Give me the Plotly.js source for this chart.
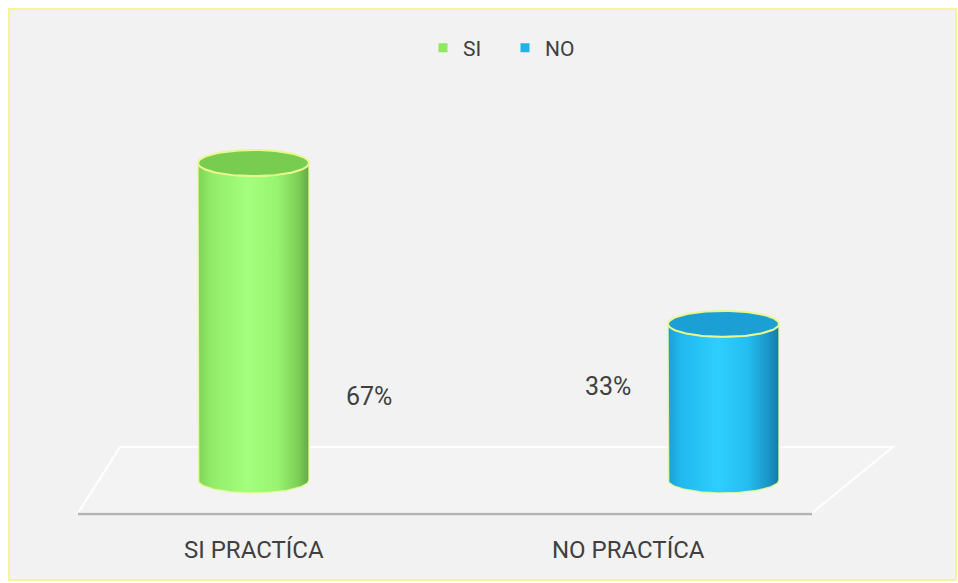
<!DOCTYPE html>
<html>
<head>
<meta charset="utf-8">
<script src="https://cdn.plot.ly/plotly-3.0.1.min.js"></script>
<style>
html,body{margin:0;padding:0;background:#fff;}
#chart{width:958px;height:583px;}
</style>
</head>
<body>
<div id="chart"></div>
<script>
// ---- data ----
const categories = ['SI PRACTÍCA', 'NO PRACTÍCA'];
const seriesNames = ['SI', 'NO'];
const values = [67, 33];
const valueSuffix = '%';

// ---- styling ----
const W = 958, H = 583;
const FONT = "'Liberation Sans Narrow', 'Arial Narrow', Roboto, sans-serif";
const bodyScales = [
  [[0,'#7fd257'],[0.12,'#92ec69'],[0.45,'#a3ff7d'],[0.72,'#98f370'],[0.9,'#7dcf56'],[1,'#63a944']],
  [[0,'#1a9fd6'],[0.12,'#22b9ee'],[0.45,'#2dcffe'],[0.72,'#25bdf0'],[0.9,'#1996c9'],[1,'#1479a8']]
];
const topColors = ['#78cd50', '#1c9fd4'];
const legendColors = ['#8ee860', '#1fb3e6'];

// pixel helpers (paper coords)
const px = x => x / W;
const py = y => 1 - y / H;

// axis scaling: y=0 at pixel 480, 67 at pixel 163
const pxPerUnitY = (480 - 163) / 67;
const yMin = -(H - 480) / pxPerUnitY;
const yMax = yMin + H / pxPerUnitY;
// x: category index 0 -> 253.5px, 1 -> 723.5px
const pxPerUnitX = 470;
const xMin = -253.5 / pxPerUnitX;
const xMax = xMin + W / pxPerUnitX;

const a = 55.5 / pxPerUnitX;   // ellipse half-width (data units)
const b = 13 / pxPerUnitY;     // ellipse half-height (data units)
const N = 60;

const traces = [];
values.forEach((v, i) => {
  const cx = i;
  // body
  const bx = [], by = [];
  bx.push(cx - a); by.push(v);
  bx.push(cx - a); by.push(0);
  for (let k = 0; k <= N; k++) {
    const t = Math.PI + Math.PI * k / N;
    bx.push(cx + a * Math.cos(t)); by.push(b * Math.sin(t));
  }
  bx.push(cx + a); by.push(v);
  for (let k = 0; k <= N; k++) {
    const t = -Math.PI * k / N;
    bx.push(cx + a * Math.cos(t)); by.push(v + b * Math.sin(t));
  }
  traces.push({
    type: 'scatter', mode: 'lines', x: bx, y: by, fill: 'toself',
    fillgradient: {type: 'horizontal', colorscale: bodyScales[i]},
    line: {color: 'rgba(235,250,150,0.85)', width: 1.5},
    hoverinfo: 'skip', showlegend: false
  });
  // top ellipse
  const tx = [], ty = [];
  for (let k = 0; k <= 2 * N; k++) {
    const t = 2 * Math.PI * k / (2 * N);
    tx.push(cx + a * Math.cos(t)); ty.push(v + b * Math.sin(t));
  }
  traces.push({
    type: 'scatter', mode: 'lines', x: tx, y: ty, fill: 'toself',
    fillcolor: topColors[i],
    line: {color: '#e9f78e', width: 2},
    hoverinfo: 'skip', showlegend: false
  });
});

// legend dummies
seriesNames.forEach((n, i) => {
  traces.push({
    type: 'scatter', mode: 'markers', x: [null], y: [null], name: n,
    marker: {symbol: 'square', size: 9, color: legendColors[i]},
    showlegend: true
  });
});

const shapes = [
  // frame
  {type: 'rect', xref: 'paper', yref: 'paper', x0: px(9), x1: px(956), y0: py(580), y1: py(9),
   fillcolor: '#f2f2f2', line: {color: '#f4f49a', width: 2}, layer: 'below'},
  // floor
  {type: 'path', xref: 'paper', yref: 'paper', layer: 'below',
   path: `M ${px(120)},${py(447)} L ${px(893)},${py(447)} L ${px(812)},${py(513)} L ${px(78)},${py(513)} Z`,
   fillcolor: '#f3f3f3', line: {color: '#ffffff', width: 2}},
  // front edge
  {type: 'line', xref: 'paper', yref: 'paper', layer: 'below',
   x0: px(78), x1: px(812), y0: py(514), y1: py(514), line: {color: '#b4b4b4', width: 2.5}}
];

const labelPos = [[369, 396], [608, 386]];
const catPos = [[254, 550], [628, 550]];
const annotations = [];
values.forEach((v, i) => {
  annotations.push({xref: 'paper', yref: 'paper', x: px(labelPos[i][0]), y: py(labelPos[i][1]),
    text: v + valueSuffix, showarrow: false, xanchor: 'center', yanchor: 'middle',
    font: {family: FONT, size: 25, color: '#404040'}});
});
categories.forEach((c, i) => {
  annotations.push({xref: 'paper', yref: 'paper', x: px(catPos[i][0]), y: py(catPos[i][1]),
    text: c, showarrow: false, xanchor: 'center', yanchor: 'middle',
    font: {family: FONT, size: 24, color: '#404040'}});
});

const layout = {
  width: W, height: H,
  margin: {l: 0, r: 0, t: 0, b: 0},
  paper_bgcolor: '#ffffff', plot_bgcolor: 'rgba(0,0,0,0)',
  xaxis: {range: [xMin, xMax], visible: false, fixedrange: true},
  yaxis: {range: [yMin, yMax], visible: false, fixedrange: true},
  showlegend: true,
  legend: {orientation: 'h', x: px(423), xanchor: 'left', y: py(48), yanchor: 'middle',
    bgcolor: 'rgba(0,0,0,0)', font: {family: FONT, size: 21, color: '#404040'},
    entrywidth: 37, entrywidthmode: 'pixels', tracegroupgap: 0},
  shapes: shapes,
  annotations: annotations
};

Plotly.newPlot('chart', traces, layout, {staticPlot: true, displayModeBar: false});
</script>
</body>
</html>
